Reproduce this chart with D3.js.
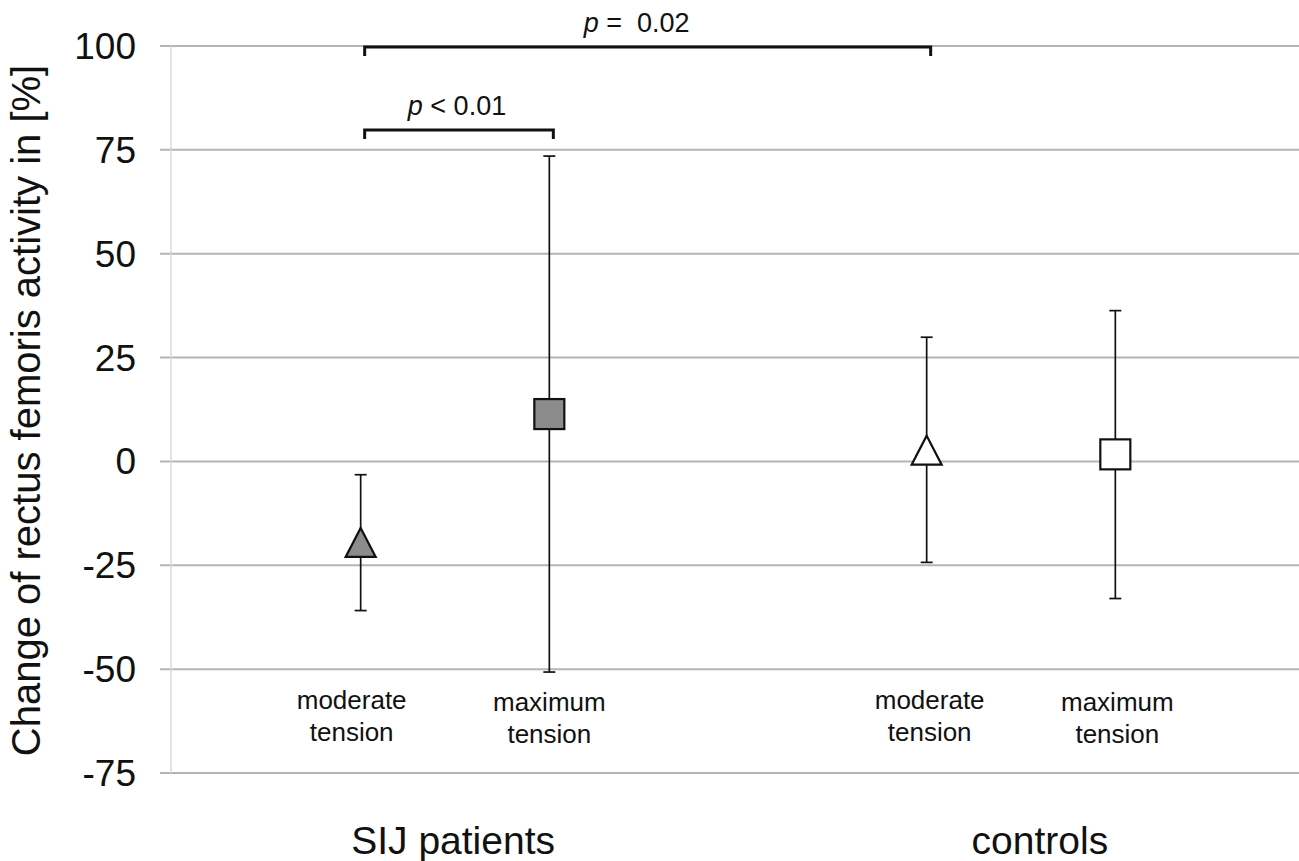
<!DOCTYPE html>
<html>
<head>
<meta charset="utf-8">
<script src="https://cdn.jsdelivr.net/npm/d3@7"></script>
<style>
  html, body { margin: 0; padding: 0; background: #fff; }
  svg { display: block; font-family: "Liberation Sans", Arial, sans-serif; }
</style>
</head>
<body>
<svg id="chart" width="1299" height="861"></svg>
<script>
// ---- data ----
const conditions = ["moderate tension", "maximum tension", "moderate tension", "maximum tension"];
const groups = ["SIJ patients", "SIJ patients", "controls", "controls"];
const groupNames = ["SIJ patients", "controls"];
const slotIndex = [1, 2, 4, 5];          // category slot on the x axis
const means = [-19.5, 11.4, 2.7, 1.7];
const upper = [-3.2, 73.5, 29.9, 36.3];
const lower = [-35.9, -50.7, -24.3, -33.0];
const markerShape = ["triangle", "square", "triangle", "square"];
const markerFill = ["#8c8c8c", "#8c8c8c", "#ffffff", "#ffffff"];
const yTicks = [100, 75, 50, 25, 0, -25, -50, -75];
const brackets = [
  { from: 1, to: 4, level: 100, label: ["p", " =  0.02"] },
  { from: 1, to: 2, level: 80, label: ["p", " < 0.01"] }
];
const yTitle = "Change of rectus femoris activity in [%]";

// ---- layout ----
const W = 1299, H = 861;
const svg = d3.select("#chart");
const x = d3.scaleLinear().domain([0, 6]).range([172, 1304]);
const y = d3.scaleLinear().domain([-75, 100]).range([773, 46]);
const groupCenter = { "SIJ patients": 1.49, "controls": 4.6 };
const labelShift = [-9, 0, 3, 2];
const bracketLabelShift = [-11, -2];

// gridlines
svg.append("g").selectAll("line").data(yTicks).join("line")
  .attr("x1", 160).attr("x2", W)
  .attr("y1", d => y(d)).attr("y2", d => y(d))
  .attr("stroke", "#b4b4b4").attr("stroke-width", 2);

// vertical axis line
svg.append("line")
  .attr("x1", 171).attr("x2", 171)
  .attr("y1", y(100)).attr("y2", y(-75))
  .attr("stroke", "#dadada").attr("stroke-width", 1.5);

// tick labels
svg.append("g").selectAll("text").data(yTicks).join("text")
  .attr("x", 136).attr("y", d => y(d) + 13)
  .attr("text-anchor", "end")
  .attr("font-size", 37).attr("fill", "#111")
  .text(d => d);

// y title
svg.append("text")
  .attr("transform", `translate(40, ${(y(100) + y(-75)) / 2 + 1}) rotate(-90)`)
  .attr("text-anchor", "middle")
  .attr("font-size", 40).attr("fill", "#111")
  .text(yTitle);

// error bars
const eb = svg.append("g").attr("stroke", "#111").attr("stroke-width", 1.7);
means.forEach((m, i) => {
  const cx = x(slotIndex[i]);
  eb.append("line").attr("x1", cx).attr("x2", cx)
    .attr("y1", y(upper[i])).attr("y2", y(lower[i]));
  [upper[i], lower[i]].forEach(v => {
    eb.append("line").attr("x1", cx - 6).attr("x2", cx + 6)
      .attr("y1", y(v)).attr("y2", y(v));
  });
});

// markers
const mk = svg.append("g").attr("stroke", "#111").attr("stroke-width", 2.2);
means.forEach((m, i) => {
  const cx = x(slotIndex[i]), cy = y(m);
  if (markerShape[i] === "square") {
    mk.append("rect").attr("x", cx - 15).attr("y", cy - 15)
      .attr("width", 30).attr("height", 30).attr("fill", markerFill[i]);
  } else {
    const p = d3.path();
    p.moveTo(cx, cy - 14.5);
    p.lineTo(cx + 15, cy + 14.5);
    p.lineTo(cx - 15, cy + 14.5);
    p.closePath();
    mk.append("path").attr("d", p.toString()).attr("fill", markerFill[i])
      .attr("stroke-linejoin", "miter");
  }
});

// category labels
conditions.forEach((c, i) => {
  const words = c.split(" ");
  const t = svg.append("text")
    .attr("text-anchor", "middle").attr("font-size", 26).attr("fill", "#111");
  words.forEach((w, k) => {
    t.append("tspan").attr("x", x(slotIndex[i]) + labelShift[i])
      .attr("y", 709 + k * 32 + (i % 2) * 2).text(w);
  });
});

// group labels
svg.append("g").selectAll("text").data(groupNames).join("text")
  .attr("x", d => x(groupCenter[d]))
  .attr("y", 854)
  .attr("text-anchor", "middle").attr("font-size", 39).attr("fill", "#111")
  .text(d => d);

// significance brackets
const br = svg.append("g");
brackets.forEach((b, j) => {
  const x1 = x(b.from) + 4, x2 = x(b.to) + 4, yy = y(b.level) + 1;
  br.append("path")
    .attr("d", `M${x1},${yy + 9}V${yy}H${x2}V${yy + 9}`)
    .attr("fill", "none").attr("stroke", "#111").attr("stroke-width", 3);
  const t = br.append("text")
    .attr("x", (x1 + x2) / 2 + bracketLabelShift[j])
    .attr("y", yy - 15)
    .attr("text-anchor", "middle").attr("font-size", 27).attr("fill", "#111");
  t.append("tspan").attr("font-style", "italic").text(b.label[0]);
  t.append("tspan").attr("xml:space", "preserve").style("white-space", "pre").text(b.label[1]);
});
</script>
</body>
</html>
